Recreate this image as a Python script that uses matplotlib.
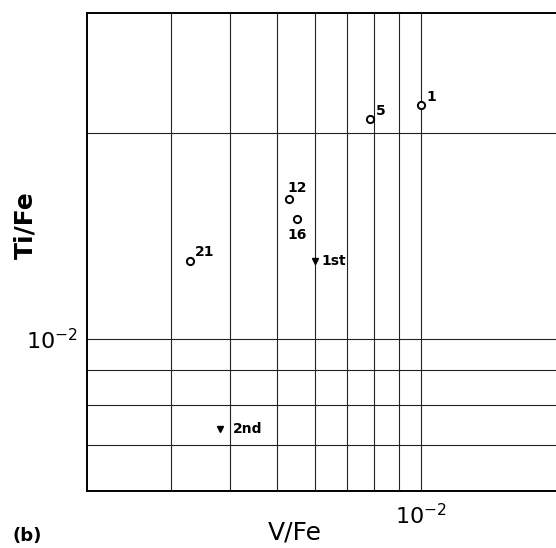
import matplotlib
matplotlib.use("Agg")
import matplotlib.pyplot as plt
from matplotlib.ticker import NullFormatter

# numbered samples (open circles)
sample_labels = ['1', '5', '12', '16', '21']
sample_v_fe = [1.00e-2, 7.84e-3, 5.30e-3, 5.52e-3, 3.30e-3]
sample_ti_fe = [2.20e-2, 2.10e-2, 1.60e-2, 1.50e-2, 1.30e-2]

# 1st / 2nd (down triangles)
tri_labels = ['1st', '2nd']
tri_v_fe = [6.0e-3, 3.81e-3]
tri_ti_fe = [1.30e-2, 7.38e-3]

x_grid = [3e-3, 4e-3, 5e-3, 6e-3, 7e-3, 8e-3, 9e-3]
y_grid = [7e-3, 8e-3, 9e-3, 2e-2]

fig = plt.figure(figsize=(5.56, 5.48), dpi=100)
ax = fig.add_axes([0.1556, 0.1046, 0.8444, 0.8722])
ax.set_xscale('log')
ax.set_yscale('log')
ax.set_xlim(2e-3, 1.92e-2)
ax.set_ylim(6e-3, 3e-2)

ax.set_xticks([1e-2])
ax.set_yticks([1e-2])
ax.set_xticks(x_grid, minor=True)
ax.set_yticks(y_grid, minor=True)
ax.xaxis.set_minor_formatter(NullFormatter())
ax.yaxis.set_minor_formatter(NullFormatter())
ax.tick_params(which='both', length=0, labelsize=16)
ax.tick_params(axis='x', pad=9)
ax.tick_params(axis='y', pad=6)
ax.grid(which='both', color='#222222', linewidth=0.8)
ax.set_axisbelow(True)

for side in ['left', 'bottom', 'top']:
    ax.spines[side].set_linewidth(1.4)
ax.spines['right'].set_visible(False)

ax.plot(sample_v_fe, sample_ti_fe, 'o', ms=5.2, mfc='white', mec='black', mew=1.4, zorder=3)
ax.plot(tri_v_fe, tri_ti_fe, 'v', ms=4.5, color='black', zorder=3)

sample_offsets = [(7.7, 5.8), (7.9, 5.3), (6, 8.4), (0, -11.5), (9.9, 6.7)]
for lab, x, y, off in zip(sample_labels, sample_v_fe, sample_ti_fe, sample_offsets):
    ax.annotate(lab, (x, y), xytext=off, textcoords='offset points',
                ha='center', va='center', fontsize=10, fontweight='bold')

tri_offsets = [(13.7, 0), (19.7, 0)]
for lab, x, y, off in zip(tri_labels, tri_v_fe, tri_ti_fe, tri_offsets):
    ax.annotate(lab, (x, y), xytext=off, textcoords='offset points',
                ha='center', va='center', fontsize=10, fontweight='bold')

fig.text(295 / 556, 1 - 532 / 548, 'V/Fe', fontsize=18, ha='center', va='center')
fig.text(25 / 556, 1 - 225 / 548, 'Ti/Fe', fontsize=18, fontweight='bold',
         rotation=90, ha='center', va='center')
fig.text(27 / 556, 1 - 536 / 548, '(b)', fontsize=13, fontweight='bold',
         ha='center', va='center')

fig.savefig('out.png', dpi=100)
